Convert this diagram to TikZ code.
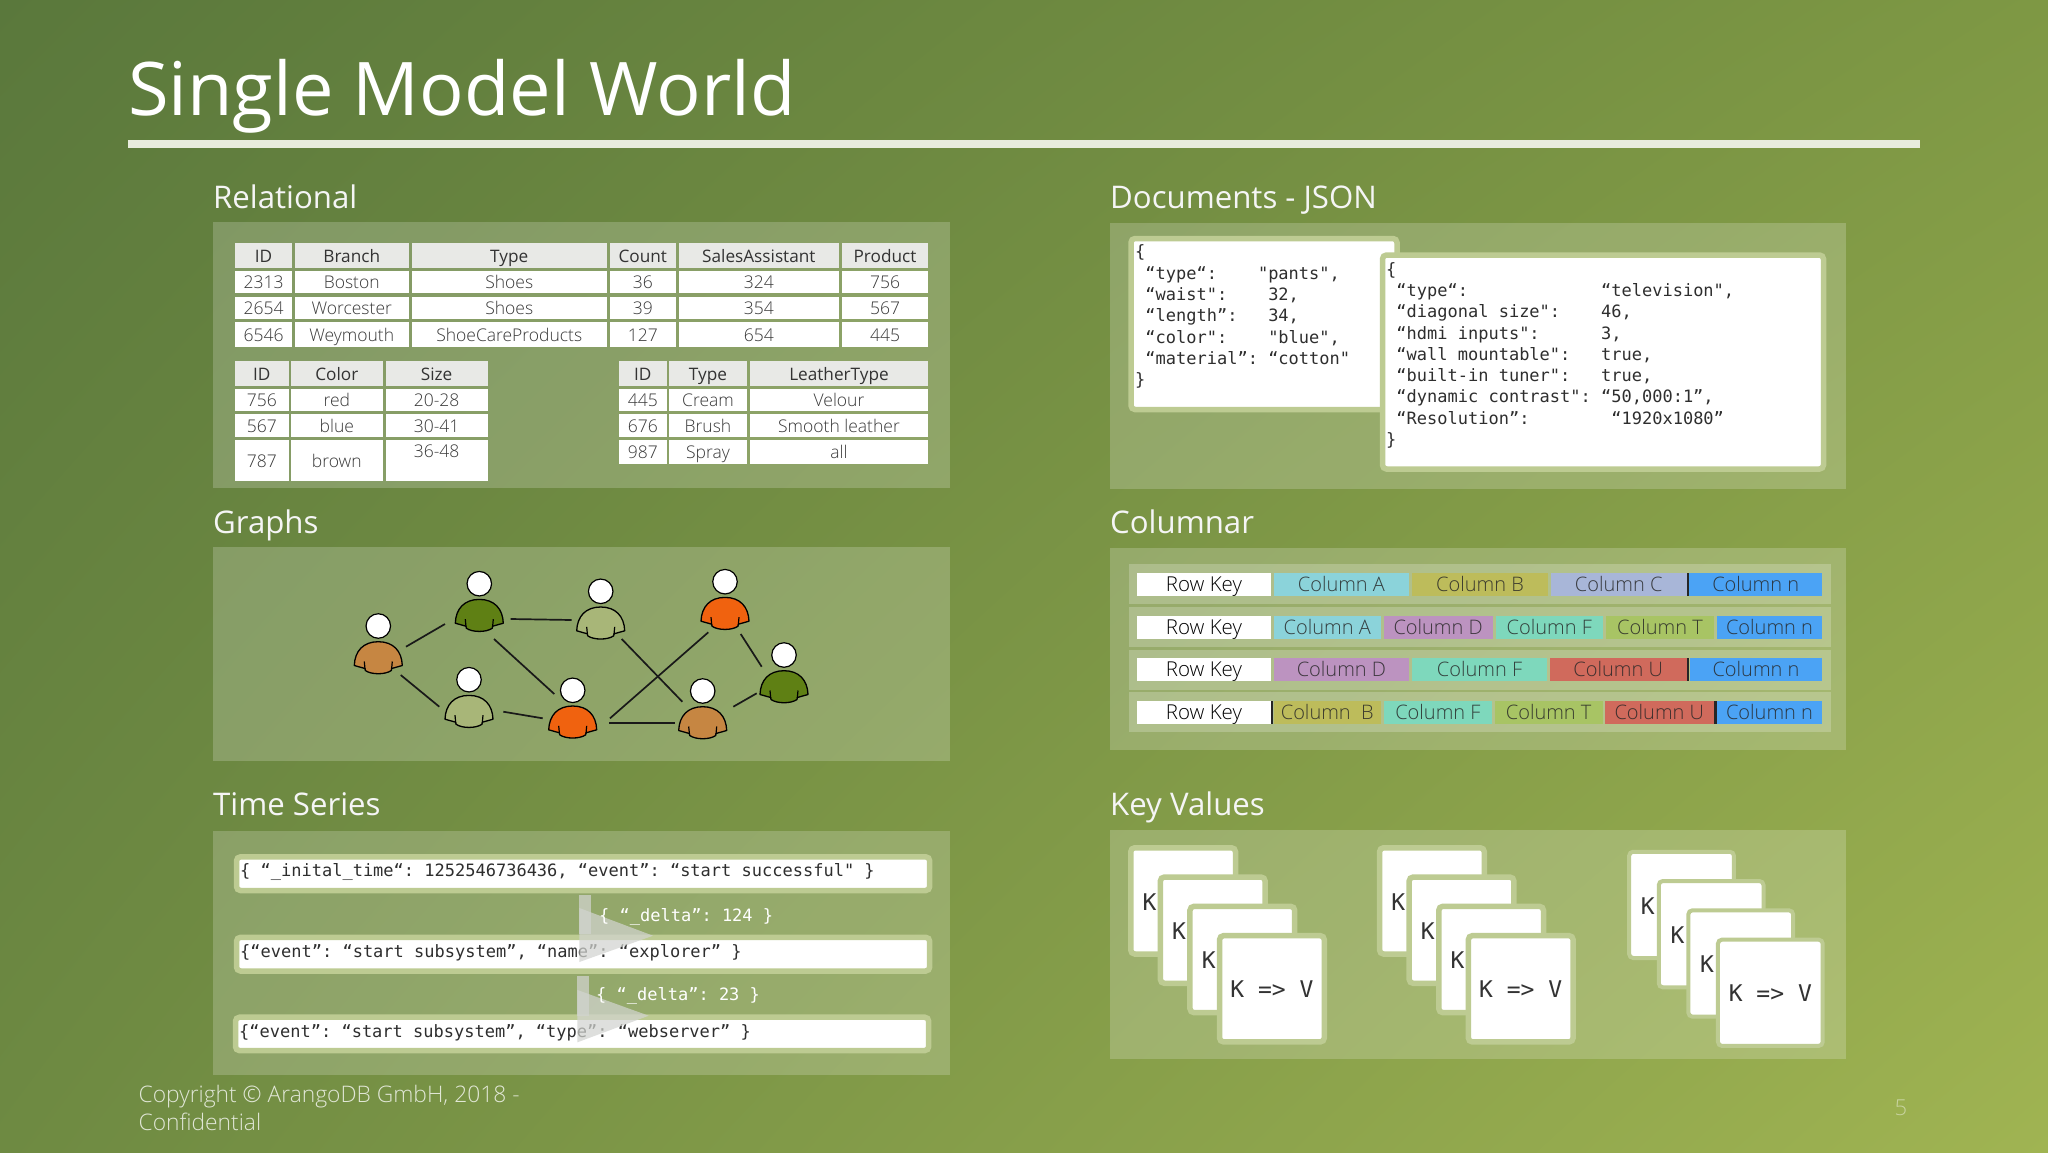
\documentclass[tikz,border=0pt]{standalone}
\usepackage{fontspec}
\setmainfont{Open Sans}
\newfontfamily\lightf{Open Sans Light}
\setmonofont{DejaVu Sans Mono}
\usetikzlibrary{calc,shadings}
\definecolor{bgTL}{RGB}{90,120,60}
\definecolor{bgTR}{RGB}{126,152,68}
\definecolor{bgBL}{RGB}{110,138,66}
\definecolor{bgBR}{RGB}{160,180,82}
\definecolor{frameC}{RGB}{189,203,146}
\definecolor{hdC}{RGB}{232,233,230}
\definecolor{cA}{RGB}{139,211,218}
\definecolor{cB}{RGB}{189,188,91}
\definecolor{cC}{RGB}{168,182,216}
\definecolor{cN}{RGB}{75,163,245}
\definecolor{cD}{RGB}{188,147,192}
\definecolor{cF}{RGB}{126,216,188}
\definecolor{cT}{RGB}{168,196,100}
\definecolor{cU}{RGB}{208,106,92}
\definecolor{pBrown}{RGB}{198,134,66}
\definecolor{pDark}{RGB}{95,128,20}
\definecolor{pLight}{RGB}{168,182,120}
\definecolor{pOrange}{RGB}{240,98,15}
\definecolor{markC}{RGB}{210,212,208}
\newcommand\cb[7]{\pgfmathsetmacro\cbw{#4-(#2)}\pgfmathsetmacro\cbh{#5-(#3)}%
  \node[#1,minimum width=\cbw pt,minimum height=\cbh pt] (#6) at ({(#2+#4)/2},{(#3+#5)/2}) {#7};}
\newcommand\person[4]{%
  \begin{scope}[shift={(#2,#3)}]
    \draw[fill=#4,line width=1.3pt,line join=round] (-24,39.5) .. controls (-23.5,25) and (-15,15.7) .. (0,15.7)
      .. controls (15,15.7) and (23.5,25) .. (24,39.5) -- (13.3,42.5) -- (13,44.5) .. controls (7,48.8) and (-7,48.8) .. (-13,44.5) -- (-13.3,42.5) -- cycle;
    \draw[line width=1.2pt] (-13.3,43) -- (-14,35.5) (13.3,43) -- (14,35.5);
  \end{scope}
  \node[headn] (#1) at (#2,#3) {};}
\newcommand\conn[6]{\draw[edgeline] ([shift={(#2,#3)}]#1.center) -- ([shift={(#5,#6)}]#4.center);}
\newcommand\stack[3]{% prefix, x, y of back card outer corner
  \foreach \i/\k in {0/1,1/2,2/3}{
    \pgfmathsetmacro\xa{#2+29.6*\i}\pgfmathsetmacro\ya{#3+29.3*\i}
    \cb{cardn}{\xa+2.75}{\ya+2.75}{\xa+107.5}{\ya+109}{#1c\k}{}
    \node[kv] (#1k\k) at (\xa+21.5,\ya+57) {K};
  }
  \pgfmathsetmacro\xa{#2+88.8}\pgfmathsetmacro\ya{#3+87.9}
  \cb{cardn}{\xa+2.75}{\ya+2.75}{\xa+107.5}{\ya+109}{#1c4}{K => V}}
\tikzset{
  panel/.style={fill=white,fill opacity=.2,draw=none,inner sep=0},
  heading/.style={anchor=base west,inner sep=0,text=white!96!black,font=\fontsize{31.2}{34}\selectfont},
  hd/.style={fill=hdC,inner sep=0,text=black!80,text height=13pt,text depth=0pt,font=\fontsize{17.2}{20}\selectfont},
  bd/.style={fill=white,inner sep=0,text=black!78,text height=13pt,text depth=0pt,font=\lightf\fontsize{17.5}{20}\selectfont},
  band/.style={fill=white,fill opacity=.22,inner sep=0},
  colc/.style={fill=#1,inner sep=0,text=black!85,text opacity=.85,text height=14pt,text depth=0pt,font=\lightf\fontsize{20}{22}\selectfont},
  rowk/.style={fill=white,inner sep=0,text=black,text height=14pt,text depth=0pt,font=\lightf\fontsize{20.5}{22}\selectfont},
  sep/.style={fill=black!85,inner sep=0},
  frm/.style={fill=white,draw=frameC,line width=5.5pt,rounded corners=4pt,inner sep=0},
  codetxt/.style={anchor=north west,align=left,inner sep=0,text=black!82,font=\ttfamily\fontsize{17}{21.3}\selectfont},
  linetxt/.style={anchor=west,inner sep=0,text=black!82,font=\ttfamily\fontsize{17}{20}\selectfont},
  deltatxt/.style={anchor=west,inner sep=0,text=white,font=\ttfamily\fontsize{17}{20}\selectfont},
  flowmark/.style={fill=markC,fill opacity=.72,draw=none},
  headn/.style={circle,fill=white,draw=black,line width=1.2pt,minimum size=24.5pt,inner sep=0},
  edgeline/.style={draw=black!90,line width=1.7pt},
  cardn/.style={fill=white,draw=frameC,line width=5.5pt,rounded corners=4pt,inner sep=0,text=black!80,font=\ttfamily\fontsize{23}{25}\selectfont},
  kv/.style={inner sep=0,text=black!80,font=\ttfamily\fontsize{23}{25}\selectfont},
}
\begin{document}
\begin{tikzpicture}[x=1pt,y=-1pt]
\useasboundingbox (0,0) rectangle (2048,1152);
\shade[shading=bilinear interpolation,upper left=bgTL,upper right=bgTR,lower left=bgBL,lower right=bgBR] (0,0) rectangle (2048,1152);
% title
\node[anchor=base west,inner sep=0,text=white,font=\fontsize{74}{80}\selectfont] (title) at (128,115) {Single Model World};
\fill[white!82!bgTR] (128,140) rectangle (1920,148);
% headings
\node[heading] (hRel) at (213,208.5) {Relational};
\node[heading] (hDoc) at (1110,208.5) {Documents - JSON};
\node[heading] (hGra) at (213,533.5) {Graphs};
\node[heading] (hCol) at (1110,533.5) {Columnar};
\node[heading] (hTim) at (213,815.5) {Time Series};
\node[heading] (hKey) at (1110,815.5) {Key Values};
% panels
\cb{panel}{213}{221.7}{950}{488}{pRel}{}
\cb{panel}{1110}{222.7}{1845.5}{489}{pDoc}{}
\cb{panel}{213}{547}{950}{760.7}{pGra}{}
\cb{panel}{1110}{548.3}{1845.5}{750}{pCol}{}
\cb{panel}{213}{830.5}{950}{1075}{pTim}{}
\cb{panel}{1110}{830}{1845.5}{1059.3}{pKey}{}
% table 1
\foreach \n/\a/\b/\t in {a/235/292/ID,b/294.5/409/Branch,c/411.5/607/Type,d/610/675.6/Count,e/678.6/839/SalesAssistant,f/842/928/Product}
  \cb{hd}{\a}{243}{\b}{268}{ta0\n}{\t};
\foreach \n/\a/\b/\t in {a/235/292/2313,b/294.5/409/Boston,c/411.5/607/Shoes,d/610/675.6/36,e/678.6/839/324,f/842/928/756}
  \cb{bd}{\a}{271}{\b}{293}{ta1\n}{\t};
\foreach \n/\a/\b/\t in {a/235/292/2654,b/294.5/409/Worcester,c/411.5/607/Shoes,d/610/675.6/39,e/678.6/839/354,f/842/928/567}
  \cb{bd}{\a}{297}{\b}{319}{ta2\n}{\t};
\foreach \n/\a/\b/\t in {a/235/292/6546,b/294.5/409/Weymouth,c/411.5/607/ShoeCareProducts,d/610/675.6/127,e/678.6/839/654,f/842/928/445}
  \cb{bd}{\a}{322}{\b}{347}{ta3\n}{\t};
% table 2
\foreach \n/\a/\b/\t in {a/235/288.5/ID,b/291/382.6/Color,c/385.6/487.6/Size}
  \cb{hd}{\a}{361}{\b}{386}{tb0\n}{\t};
\foreach \n/\a/\b/\t in {a/235/288.5/756,b/291/382.6/red,c/385.6/487.6/20-28}
  \cb{bd}{\a}{389}{\b}{411}{tb1\n}{\t};
\foreach \n/\a/\b/\t in {a/235/288.5/567,b/291/382.6/blue,c/385.6/487.6/30-41}
  \cb{bd}{\a}{414}{\b}{437}{tb2\n}{\t};
\foreach \n/\a/\b/\t in {a/235/288.5/787,b/291/382.6/brown}
  \cb{bd}{\a}{440}{\b}{481}{tb3\n}{\t};
\cb{bd,text depth=19pt}{385.6}{440}{487.6}{481}{tb3c}{36-48}
% table 3
\foreach \n/\a/\b/\t in {a/619/666.7/ID,b/669/747/Type,c/750/928/LeatherType}
  \cb{hd}{\a}{361}{\b}{386}{tc0\n}{\t};
\foreach \n/\a/\b/\t in {a/619/666.7/445,b/669/747/Cream,c/750/928/Velour}
  \cb{bd}{\a}{389}{\b}{411}{tc1\n}{\t};
\foreach \n/\a/\b/\t in {a/619/666.7/676,b/669/747/Brush,c/750/928/Smooth leather}
  \cb{bd}{\a}{414}{\b}{437}{tc2\n}{\t};
\foreach \n/\a/\b/\t in {a/619/666.7/987,b/669/747/Spray,c/750/928/all}
  \cb{bd}{\a}{440}{\b}{464}{tc3\n}{\t};
% documents
\cb{frm}{1131}{238.5}{1397}{409.5}{docA}{}
\node[codetxt] (docAt) at (1135,244.7) {\{\\~“type“:~~~~"pants",\\~“waist":~~~~32,\\~“length”:~~~34,\\~“color":~~~~"blue",\\~“material”:~“cotton"\\\}};
\cb{frm}{1382.5}{255}{1823.5}{469}{docB}{}
\node[codetxt] (docBt) at (1386,262) {\{\\~“type“:~~~~~~~~~~~~~“television",\\~“diagonal~size":~~~~46,\\~“hdmi~inputs":~~~~~~3,\\~“wall~mountable":~~~true,\\~“built-in~tuner":~~~true,\\~“dynamic~contrast":~“50,000:1”,\\~“Resolution”:~~~~~~~~“1920x1080”\\\}};
% people
\person{pa}{378.3}{626}{pBrown}
\person{pb}{479.3}{583.7}{pDark}
\person{pc}{600.7}{591.3}{pLight}
\person{pd}{725}{581.7}{pOrange}
\person{pe}{784}{655}{pDark}
\person{pf}{469}{679.7}{pLight}
\person{pg}{572.7}{690.3}{pOrange}
\person{ph}{702.7}{691}{pBrown}
\conn{pa}{27.7}{20.7}{pb}{-34.3}{40.3}
\conn{pb}{31.4}{35.3}{pc}{-29}{28.7}
\conn{pb}{14.7}{55.3}{pg}{-18.4}{3.7}
\conn{pa}{22.4}{49}{pf}{-29.7}{27}
\conn{pf}{34.3}{32}{pg}{-30}{28}
\conn{pc}{21}{47.7}{ph}{-20.4}{10.7}
\conn{pg}{37.3}{28}{pd}{-16.7}{50.6}
\conn{pg}{36.6}{33}{ph}{-27.4}{32.3}
\conn{pd}{15.7}{52.3}{pe}{-22.3}{11.7}
\conn{ph}{30.6}{15.7}{pe}{-27.3}{38.3}
% columnar
\cb{band}{1129}{564}{1831}{604.3}{bd1}{}
\cb{band}{1129}{607}{1831}{647.3}{bd2}{}
\cb{band}{1129}{649.7}{1831}{690}{bd3}{}
\cb{band}{1129}{692.3}{1831}{732.3}{bd4}{}
\cb{rowk}{1137.3}{572.7}{1270.6}{595.7}{k1}{Row Key}
\cb{colc=cA}{1273.5}{572.7}{1409.3}{595.7}{r1a}{Column A}
\cb{colc=cB}{1411.7}{572.7}{1548.4}{595.7}{r1b}{Column B}
\cb{colc=cC}{1550.8}{572.7}{1686.5}{595.7}{r1c}{Column C}
\cb{sep}{1686.8}{572.7}{1689}{595.7}{s1}{}
\cb{colc=cN}{1689.4}{572.7}{1822}{595.7}{r1n}{Column n}
\cb{rowk}{1137.3}{615.7}{1270.6}{638.7}{k2}{Row Key}
\cb{colc=cA}{1273.5}{615.7}{1381}{638.7}{r2a}{Column A}
\cb{colc=cD}{1383.6}{615.7}{1492.6}{638.7}{r2d}{Column D}
\cb{colc=cF}{1495.5}{615.7}{1603}{638.7}{r2f}{Column F}
\cb{colc=cT}{1606}{615.7}{1714}{638.7}{r2t}{Column T}
\cb{colc=cN}{1717}{615.7}{1822}{638.7}{r2n}{Column n}
\cb{rowk}{1137.3}{658}{1270.6}{681}{k3}{Row Key}
\cb{colc=cD}{1273.5}{658}{1409.3}{681}{r3d}{Column D}
\cb{colc=cF}{1412}{658}{1547}{681}{r3f}{Column F}
\cb{colc=cU}{1549.8}{658}{1686.5}{681}{r3u}{Column U}
\cb{sep}{1687.2}{658}{1689.4}{681}{s3}{}
\cb{colc=cN}{1690}{658}{1822}{681}{r3n}{Column n}
\cb{rowk}{1137.3}{700.7}{1270.6}{723.7}{k4}{Row Key}
\cb{sep}{1271}{700.7}{1273.2}{723.7}{s4a}{}
\cb{colc=cB}{1273.5}{700.7}{1381}{723.7}{r4b}{Column~~B}
\cb{colc=cF}{1384}{700.7}{1491.7}{723.7}{r4f}{Column F}
\cb{colc=cT}{1494.6}{700.7}{1602.7}{723.7}{r4t}{Column T}
\cb{colc=cU}{1604.6}{700.7}{1714}{723.7}{r4u}{Column U}
\cb{sep}{1714.4}{700.7}{1716.6}{723.7}{s4b}{}
\cb{colc=cN}{1717}{700.7}{1822}{723.7}{r4n}{Column n}
% time series
\cb{frm}{236.5}{856.8}{929.7}{890.5}{ts1}{}
\cb{frm}{236.5}{937.3}{929.7}{971}{ts2}{}
\cb{frm}{235.5}{1017.2}{928.7}{1050.6}{ts3}{}
\node[linetxt] (ts1t) at (240,872) {\{ “\_inital\_time“: 1252546736436, “event”: “start successful" \}};
\node[linetxt] (ts2t) at (240,952.3) {\{“event”: “start subsystem”, “name”: “explorer” \}};
\node[linetxt] (ts3t) at (239,1032.3) {\{“event”: “start subsystem”, “type”: “webserver” \}};
\fill[flowmark] (579.3,908) -- (653,935.7) -- (579.3,962) -- cycle;
\fill[flowmark] (579.3,895) rectangle (590.7,934);
\fill[flowmark] (577.4,990) -- (648.7,1015.7) -- (577.4,1042.3) -- cycle;
\fill[flowmark] (577.4,976) rectangle (588.6,1016);
\node[deltatxt] (d1) at (599,916.5) {\{ “\_delta”: 124 \}};
\node[deltatxt] (d2) at (596,995.5) {\{ “\_delta”: 23 \}};
% key values
\stack{sa}{1128}{845}
\stack{sb}{1376.8}{845}
\tikzset{cardn/.append style={line width=4pt}}
\stack{sc}{1626.4}{849}
% footer
\node[anchor=north west,align=left,inner sep=0,text=white,text opacity=.78,font=\lightf\fontsize{22.8}{27.5}\selectfont] (copy) at (138.5,1085) {Copyright © ArangoDB GmbH, 2018 -\\Confidential};
\node[inner sep=0,text=white,text opacity=.45,font=\lightf\fontsize{22}{24}\selectfont] (pageno) at (1901,1108) {5};
\end{tikzpicture}
\end{document}
